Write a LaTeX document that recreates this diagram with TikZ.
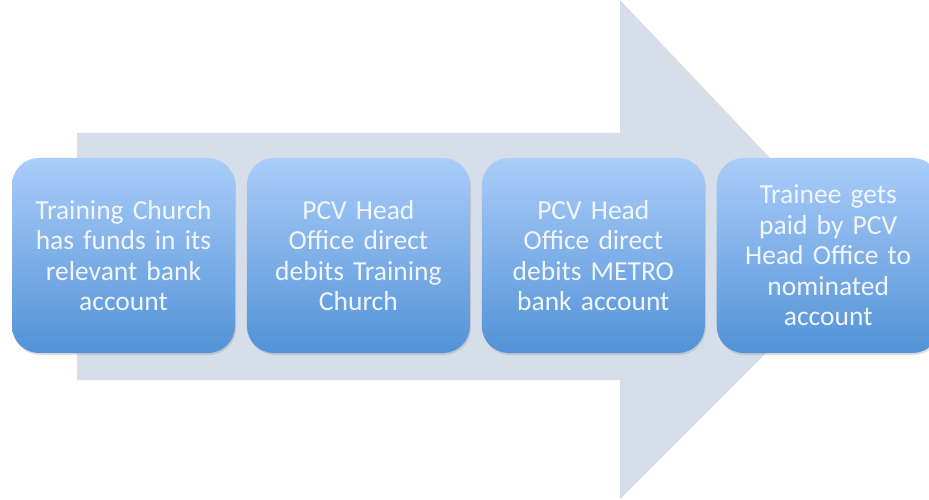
\documentclass[tikz,border=0pt]{standalone}
\usepackage{fontspec}
\newfontfamily\boxfont{Carlito}
\usepackage{tikz}
\usetikzlibrary{positioning, shadows}
\definecolor{arrowgrey}{RGB}{214,222,234}
\definecolor{boxtop}{RGB}{170,205,249}
\definecolor{boxbottom}{RGB}{82,146,215}
\definecolor{boxtext}{RGB}{242,246,252}
\tikzset{
x=1pt, y=1pt, % work in points so the picture is 929 by 499
node distance=11.5pt, % gap between two steps
every stage/.style={rounded corners=27pt, minimum width=223pt, minimum height=195pt,
  top color=boxtop, bottom color=boxbottom, draw=none,
  drop shadow={opacity=0.25, shadow xshift=1pt, shadow yshift=-2pt},
  text=boxtext, text width=215pt, align=center,
  font=\boxfont\fontsize{27.5}{30.5}\selectfont}, % sets the look of each step box
}

\begin{document}
\begin{tikzpicture}
    \clip (0,0) rectangle (929,499);
    \fill[white] (0,0) rectangle (929,499);
    % the big arrow behind the steps
    \fill[arrowgrey] (77,119) -- (77,366) -- (620,366) -- (620,499)
        -- (863,243) -- (620,0) -- (620,119) -- cycle;
    \node[every stage] (s1) at (123.5,243.5) {Training Church\\ has funds in its\\ relevant bank\\ account};
    \node[every stage, right=of s1] (s2) {PCV Head\\ Office direct\\ debits Training\\ Church};
    \node[every stage, right=of s2] (s3) {PCV Head\\ Office direct\\ debits METRO\\ bank account};
    \node[every stage, right=of s3] (s4) {Trainee gets\\ paid by PCV\\ Head Office to\\ nominated\\ account};
\end{tikzpicture}
\end{document}
